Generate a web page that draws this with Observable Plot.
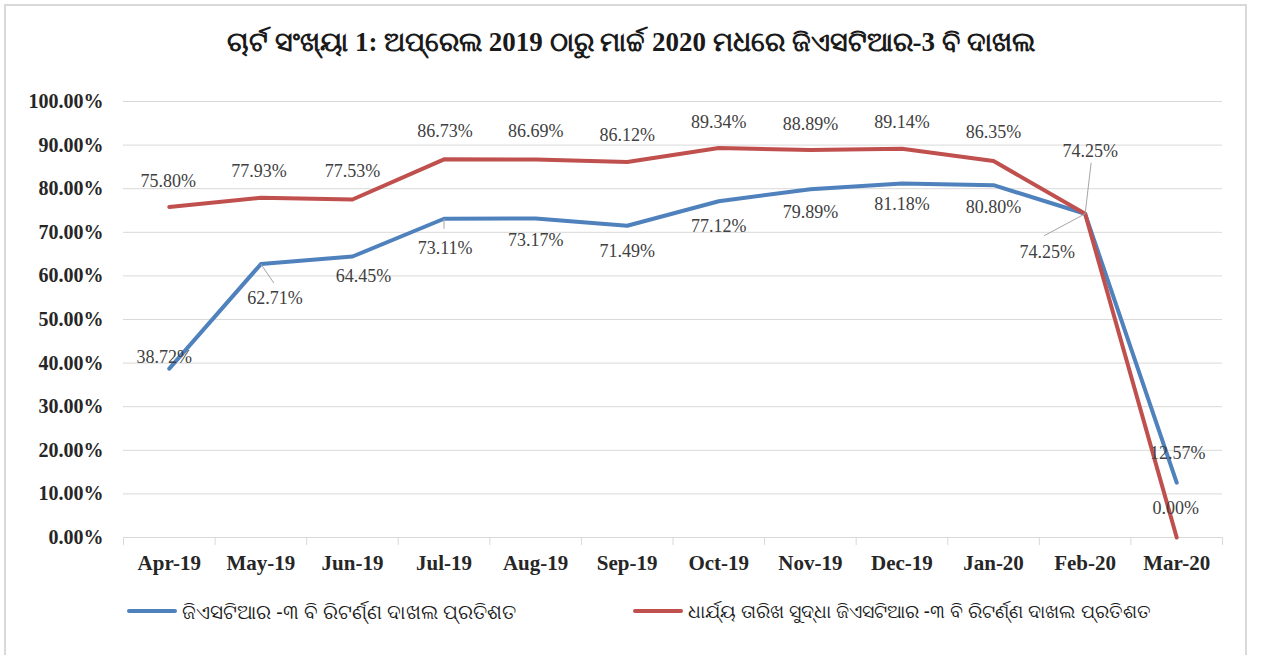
<!DOCTYPE html>
<html>
<head>
<meta charset="utf-8">
<script src="https://cdn.jsdelivr.net/npm/d3@7"></script>
<script src="https://cdn.jsdelivr.net/npm/@observablehq/plot@0.6"></script>
<style>
  body { margin: 0; background: #fff; width: 1262px; height: 655px; overflow: hidden; position: relative; }
  #frame { position: absolute; left: 4px; top: 4px; width: 1243px; height: 670px; border: 2px solid #d9d9d9; box-sizing: border-box; }
  #title { position: absolute; left: 0; width: 1262px; top: 27px; text-align: center; font-family: "Liberation Serif", "Noto Sans", serif; font-weight: bold; font-size: 27px; color: #1a1a1a; white-space: nowrap; }
  #chart { position: absolute; left: 0; top: 80px; }
  .leg { position: absolute; top: 596px; height: 30px; display: flex; align-items: center; font-family: "Noto Sans", "DejaVu Sans", sans-serif; font-size: 20px; color: #1a1a1a; white-space: nowrap; }
  .sw { width: 50px; height: 4px; border-radius: 2px; margin-right: 5px; }
</style>
</head>
<body>
<div id="frame"></div>
<div id="title"></div>
<div id="chart"></div>
<div class="leg" id="leg0" style="left:127px"><div class="sw" style="background:#4f81bd"></div><span></span></div>
<div class="leg" id="leg1" style="left:633px"><div class="sw" style="background:#c0504d"></div><span style="font-size:19px"></span></div>
<script>
const titleText = "ଚାର୍ଟ ସଂଖ୍ୟା 1: ଅପ୍ରେଲ 2019 ଠାରୁ ମାର୍ଚ୍ଚ 2020 ମଧରେ ଜିଏସଟିଆର-3 ବି ଦାଖଲ";
const months = ["Apr-19","May-19","Jun-19","Jul-19","Aug-19","Sep-19","Oct-19","Nov-19","Dec-19","Jan-20","Feb-20","Mar-20"];
const seriesNames = [
  "ଜିଏସଟିଆର -୩ ବି ରିଟର୍ଣ୍ଣ ଦାଖଲ ପ୍ରତିଶତ",
  "ଧାର୍ଯ୍ୟ ତାରିଖ ସୁଦ୍ଧା ଜିଏସଟିଆର -୩ ବି ରିଟର୍ଣ୍ଣ ଦାଖଲ ପ୍ରତିଶତ"
];
const filedPct = [38.72, 62.71, 64.45, 73.11, 73.17, 71.49, 77.12, 79.89, 81.18, 80.80, 74.25, 12.57];
const filedByDuePct = [75.80, 77.93, 77.53, 86.73, 86.69, 86.12, 89.34, 88.89, 89.14, 86.35, 74.25, 0.00];
const yTicks = [0, 10, 20, 30, 40, 50, 60, 70, 80, 90, 100];

const colors = ["#4f81bd", "#c0504d"];

// layout (pixels)
const W = 1262, H = 500, ML = 123, MR = 40, MT = 21, MB = 43;
const pxX = (W - ML - MR) / months.length;
const pxY = (H - MT - MB) / 100;

// label offsets in pixels [dx, dy], and leader line ends
const labelOffsets = [
  [[-5,-11],[14,34],[11,20],[1,29],[0,22],[0,25],[0,25],[0,23],[0,21],[0,22],[-38,38],[1,-29]],
  [[-1,-26],[-2,-26],[0,-28],[1,-28],[0,-28],[0,-27],[0,-26],[0,-26],[0,-27],[0,-29],[5,-63],[-1,-29]]
];
const leaders = [
  [[1,[13,19]],[3,[0,10]],[10,[-41,22]]],
  [[10,[6,-51]]]
];

document.getElementById("title").textContent = titleText;
document.querySelector("#leg0 span").textContent = seriesNames[0];
document.querySelector("#leg1 span").textContent = seriesNames[1];

const series = [filedPct, filedByDuePct];
const rows = [];
const labels = [];
const links = [];
series.forEach((vals, s) => {
  vals.forEach((v, i) => {
    rows.push({s, i, v});
    const [dx, dy] = labelOffsets[s][i];
    labels.push({x: i + dx / pxX, y: v - dy / pxY, text: v.toFixed(2) + "%"});
  });
  leaders[s].forEach(([i, [dx, dy]]) => {
    const v = vals[i];
    links.push({x1: i, y1: v, x2: i + dx / pxX, y2: v - dy / pxY});
  });
});

const chart = Plot.plot({
  width: W, height: H,
  marginLeft: ML, marginRight: MR, marginTop: MT, marginBottom: MB,
  style: {fontFamily: "'Liberation Serif', 'Times New Roman', serif", color: "#262626", background: "transparent", overflow: "visible"},
  x: {type: "linear", domain: [-0.5, months.length - 0.5]},
  y: {domain: [0, 100]},
  marks: [
    Plot.gridY(yTicks, {stroke: "#d9d9d9", strokeOpacity: 1, strokeWidth: 1}),
    Plot.axisY(yTicks, {tickSize: 0, tickPadding: 20, tickFormat: d => d.toFixed(2) + "%", fontSize: 20, fontWeight: "bold", label: null}),
    Plot.axisX(d3.range(-0.5, months.length, 1), {tickSize: 8, stroke: "#d9d9d9", strokeOpacity: 1, tickFormat: () => "", label: null}),
    Plot.axisX(d3.range(months.length), {tickSize: 0, tickPadding: 18, tickFormat: i => months[i], fontSize: 21, fontWeight: "bold", label: null}),
    Plot.ruleY([0], {stroke: "#d9d9d9", strokeWidth: 1}),
    Plot.line(rows, {x: "i", y: "v", z: "s", stroke: d => colors[d.s], strokeWidth: 4, strokeLinejoin: "round", strokeLinecap: "round"}),
    Plot.link(links, {x1: "x1", y1: "y1", x2: "x2", y2: "y2", stroke: "#a6a6a6", strokeWidth: 1}),
    Plot.text(labels, {x: "x", y: "y", text: "text", fontSize: 18, fill: "#404040"})
  ]
});
document.getElementById("chart").appendChild(chart);
</script>
</body>
</html>
